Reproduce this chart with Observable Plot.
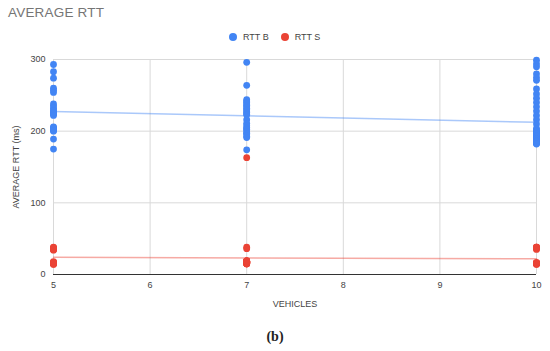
<!DOCTYPE html>
<html>
<head>
<meta charset="utf-8">
<script src="https://cdn.jsdelivr.net/npm/d3@7"></script>
<script src="https://cdn.jsdelivr.net/npm/@observablehq/plot@0.6"></script>
<style>
  html, body { margin: 0; padding: 0; background: #fff; }
  #wrap { position: relative; width: 550px; height: 351px; font-family: "Liberation Sans", Arial, sans-serif; }
  #title { position: absolute; left: 8px; top: 5px; font-size: 13.5px; color: #757575; letter-spacing: 0.2px; }
  #legend { position: absolute; left: 229px; top: 32px; font-size: 9px; color: #444; display: flex; }
  .sw { display: inline-flex; align-items: center; margin-right: 12px; }
  .sw i { display: inline-block; width: 8px; height: 8px; border-radius: 50%; margin-right: 6px; }
  #cap { position: absolute; left: 0; width: 550px; top: 329px; text-align: center; font-family: "Liberation Serif", "Times New Roman", serif; font-weight: bold; font-size: 14px; color: #222; }
  svg { position: absolute; left: 0; top: 0; }
</style>
</head>
<body>
<div id="wrap">
  <div id="title"></div>
  <div id="legend"></div>
  <div id="cap"></div>
</div>
<script>
const titleText = "AVERAGE RTT";
const xLabel = "VEHICLES";
const yLabel = "AVERAGE RTT (ms)";
const caption = "(b)";
const seriesNames = ["RTT B", "RTT S"];
const seriesColors = ["#4285F4", "#EA4335"];
const vehicles = [5, 7, 10];
const xTicks = [5, 6, 7, 8, 9, 10];
const yTicks = [0, 100, 200, 300];

// RTT B (ms) per number of vehicles
const rttB_5 = [293, 283, 274, 260, 257, 254, 238, 235, 232, 229, 226, 224, 228, 226, 224, 222, 206, 204, 202, 205, 203, 201, 200, 189, 175];
const rttB_7 = [296, 264, 244, 242, 240, 238, 236, 234, 232, 230, 228, 226, 224, 223, 216, 211, 208, 205, 203, 202, 199, 197, 196, 193, 191, 174];
const rttB_10 = [299, 294, 290, 280, 275, 271, 259, 252, 246, 240, 234, 228, 222, 216, 210, 204,
  201, 200, 199, 198, 197, 196, 195, 194, 193, 192, 191, 190, 190, 189, 189, 188, 188, 187, 187, 186, 186, 185, 185, 184, 184, 183, 183, 182];

// RTT S (ms) per number of vehicles
const rttS_5 = [14, 15, 15, 16, 16, 16, 17, 17, 18, 15, 16, 15, 34, 35, 35, 36, 37, 37, 38, 36];
const rttS_7 = [163, 38, 36, 15, 15, 15, 15, 15, 16, 16, 16, 16, 16, 17, 17, 17, 17, 17, 17, 17, 18, 18, 18, 18, 18, 19, 19, 19, 19, 19];
const rttS_10 = [14, 15, 15, 15, 15, 15, 16, 16, 16, 16, 16, 16, 16, 17, 35, 36, 37, 38, 38, 38];

const seriesData = {
  "RTT B": [rttB_5, rttB_7, rttB_10],
  "RTT S": [rttS_5, rttS_7, rttS_10]
};
const rows = [];
for (const s of seriesNames) {
  seriesData[s].forEach((vals, i) => {
    for (const v of vals) rows.push({series: s, vehicles: vehicles[i], rtt: v});
  });
}

document.getElementById("title").textContent = titleText;
document.getElementById("cap").textContent = caption;
const leg = document.getElementById("legend");
seriesNames.forEach((s, i) => {
  const sp = document.createElement("span");
  sp.className = "sw";
  const dot = document.createElement("i");
  dot.style.background = seriesColors[i];
  sp.appendChild(dot);
  sp.appendChild(document.createTextNode(s));
  leg.appendChild(sp);
});

const chart = Plot.plot({
  width: 550,
  height: 351,
  marginLeft: 53,
  marginRight: 14,
  marginTop: 59,
  marginBottom: 77,
  style: {fontFamily: "'Liberation Sans', Arial, sans-serif", fontSize: "9px", color: "#444", background: "transparent"},
  x: {domain: [5, 10]},
  y: {domain: [0, 300]},
  color: {domain: seriesNames, range: seriesColors},
  marks: [
    Plot.gridX(xTicks, {stroke: "#d9d9d9", strokeOpacity: 1}),
    Plot.gridY(yTicks, {stroke: "#d9d9d9", strokeOpacity: 1}),
    Plot.ruleY([0], {stroke: "#333", strokeWidth: 1}),
    Plot.axisX(xTicks, {tickSize: 0, tickPadding: 7, label: xLabel, labelAnchor: "center", labelOffset: 32, labelArrow: "none", fill: "#444", tickFormat: d => String(d)}),
    Plot.axisY(yTicks, {tickSize: 0, tickPadding: 8, label: yLabel, labelAnchor: "center", labelOffset: 41, labelArrow: "none", fill: "#444"}),
    Plot.linearRegressionY(rows, {x: "vehicles", y: "rtt", stroke: "series", ci: 0, strokeOpacity: 0.45, strokeWidth: 1.5}),
    Plot.dot(rows, {x: "vehicles", y: "rtt", fill: "series", r: 3.4})
  ]
});
document.getElementById("wrap").appendChild(chart);
</script>
</body>
</html>
